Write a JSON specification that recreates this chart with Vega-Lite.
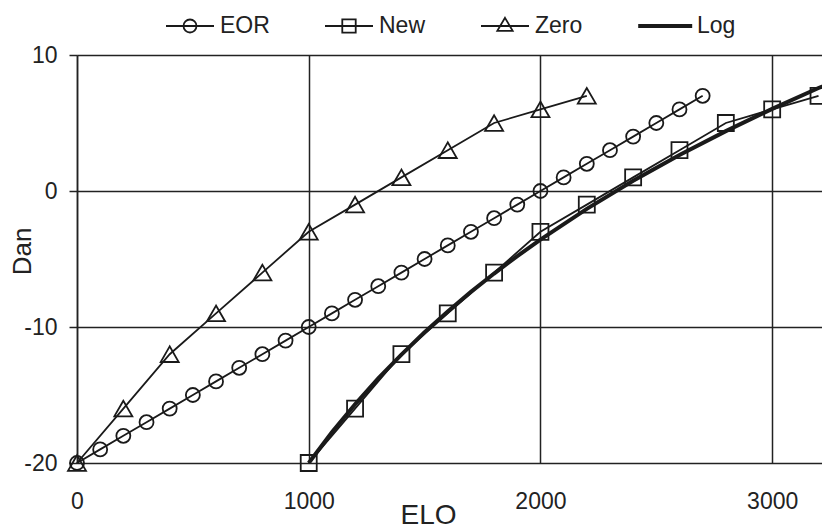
{
  "$schema": "https://vega.github.io/schema/vega-lite/v6.json",
  "width": 745,
  "height": 408,
  "autosize": {"type": "none"},
  "padding": {"left": 77, "top": 55, "right": 0, "bottom": 67},
  "background": "white",
  "config": {
    "view": {"stroke": null},
    "font": "Liberation Sans"
  },
  "data": {
    "values": [
      {"series": "EOR", "elo": 0, "dan": -20},
      {"series": "EOR", "elo": 100, "dan": -19},
      {"series": "EOR", "elo": 200, "dan": -18},
      {"series": "EOR", "elo": 300, "dan": -17},
      {"series": "EOR", "elo": 400, "dan": -16},
      {"series": "EOR", "elo": 500, "dan": -15},
      {"series": "EOR", "elo": 600, "dan": -14},
      {"series": "EOR", "elo": 700, "dan": -13},
      {"series": "EOR", "elo": 800, "dan": -12},
      {"series": "EOR", "elo": 900, "dan": -11},
      {"series": "EOR", "elo": 1000, "dan": -10},
      {"series": "EOR", "elo": 1100, "dan": -9},
      {"series": "EOR", "elo": 1200, "dan": -8},
      {"series": "EOR", "elo": 1300, "dan": -7},
      {"series": "EOR", "elo": 1400, "dan": -6},
      {"series": "EOR", "elo": 1500, "dan": -5},
      {"series": "EOR", "elo": 1600, "dan": -4},
      {"series": "EOR", "elo": 1700, "dan": -3},
      {"series": "EOR", "elo": 1800, "dan": -2},
      {"series": "EOR", "elo": 1900, "dan": -1},
      {"series": "EOR", "elo": 2000, "dan": 0},
      {"series": "EOR", "elo": 2100, "dan": 1},
      {"series": "EOR", "elo": 2200, "dan": 2},
      {"series": "EOR", "elo": 2300, "dan": 3},
      {"series": "EOR", "elo": 2400, "dan": 4},
      {"series": "EOR", "elo": 2500, "dan": 5},
      {"series": "EOR", "elo": 2600, "dan": 6},
      {"series": "EOR", "elo": 2700, "dan": 7},
      {"series": "New", "elo": 1000, "dan": -20},
      {"series": "New", "elo": 1200, "dan": -16},
      {"series": "New", "elo": 1400, "dan": -12},
      {"series": "New", "elo": 1600, "dan": -9},
      {"series": "New", "elo": 1800, "dan": -6},
      {"series": "New", "elo": 2000, "dan": -3},
      {"series": "New", "elo": 2200, "dan": -1},
      {"series": "New", "elo": 2400, "dan": 1},
      {"series": "New", "elo": 2600, "dan": 3},
      {"series": "New", "elo": 2800, "dan": 5},
      {"series": "New", "elo": 3000, "dan": 6},
      {"series": "New", "elo": 3200, "dan": 7},
      {"series": "Zero", "elo": 0, "dan": -20},
      {"series": "Zero", "elo": 200, "dan": -16},
      {"series": "Zero", "elo": 400, "dan": -12},
      {"series": "Zero", "elo": 600, "dan": -9},
      {"series": "Zero", "elo": 800, "dan": -6},
      {"series": "Zero", "elo": 1000, "dan": -3},
      {"series": "Zero", "elo": 1200, "dan": -1},
      {"series": "Zero", "elo": 1400, "dan": 1},
      {"series": "Zero", "elo": 1600, "dan": 3},
      {"series": "Zero", "elo": 1800, "dan": 5},
      {"series": "Zero", "elo": 2000, "dan": 6},
      {"series": "Zero", "elo": 2200, "dan": 7},
      {"series": "Log", "elo": 1000, "dan": -20},
      {"series": "Log", "elo": 1100, "dan": -17.74},
      {"series": "Log", "elo": 1200, "dan": -15.68},
      {"series": "Log", "elo": 1300, "dan": -13.78},
      {"series": "Log", "elo": 1400, "dan": -12.03},
      {"series": "Log", "elo": 1500, "dan": -10.39},
      {"series": "Log", "elo": 1600, "dan": -8.86},
      {"series": "Log", "elo": 1700, "dan": -7.42},
      {"series": "Log", "elo": 1800, "dan": -6.07},
      {"series": "Log", "elo": 1900, "dan": -4.79},
      {"series": "Log", "elo": 2000, "dan": -3.57},
      {"series": "Log", "elo": 2200, "dan": -1.31},
      {"series": "Log", "elo": 2400, "dan": 0.75},
      {"series": "Log", "elo": 2600, "dan": 2.65},
      {"series": "Log", "elo": 2800, "dan": 4.4},
      {"series": "Log", "elo": 3000, "dan": 6.04},
      {"series": "Log", "elo": 3200, "dan": 7.57},
      {"series": "Log", "elo": 3300, "dan": 8.3}
    ]
  },
  "encoding": {
    "x": {
      "field": "elo", "type": "quantitative",
      "scale": {"domain": [0, 3215], "nice": false, "zero": false},
      "axis": {
        "title": "ELO", "values": [0, 1000, 2000, 3000], "labelExpr": "'' + datum.value",
        "grid": true, "gridColor": "#222", "gridWidth": 1.5, "gridOpacity": 1,
        "domain": false, "ticks": false, "tickSize": 0,
        "labelFontSize": 23, "labelColor": "#222", "labelPadding": 27, "labelFlush": false,
        "titleFontSize": 28, "titleFontWeight": "normal", "titleColor": "#222",
        "titleX": 351, "titleY": 60, "titleBaseline": "alphabetic"
      }
    },
    "y": {
      "field": "dan", "type": "quantitative",
      "scale": {"domain": [-20, 10], "nice": false, "zero": false},
      "axis": {
        "title": "Dan", "values": [-20, -10, 0, 10], "labelExpr": "'' + datum.value",
        "grid": true, "gridColor": "#222", "gridWidth": 1.5, "gridOpacity": 1,
        "domain": true, "domainColor": "#222", "domainWidth": 1.5,
        "ticks": true, "tickSize": 8, "tickColor": "#222", "tickWidth": 1.5,
        "labelFontSize": 23, "labelColor": "#222", "labelPadding": 12, "labelFlush": false,
        "titleFontSize": 26, "titleFontWeight": "normal", "titleColor": "#222",
        "titleX": -55, "titleY": 196, "titleBaseline": "middle", "titleAngle": -90
      }
    }
  },
  "layer": [
    {
      "transform": [{"filter": "datum.series !== 'Log'"}],
      "mark": {"type": "line", "color": "#1a1a1a", "strokeWidth": 1.8},
      "encoding": {"detail": {"field": "series"}}
    },
    {
      "transform": [{"filter": "datum.series === 'Log'"}],
      "mark": {"type": "line", "color": "#1a1a1a", "strokeWidth": 4, "clip": true},
      "encoding": {}
    },
    {
      "transform": [{"filter": "datum.series === 'EOR'"}],
      "mark": {"type": "point", "shape": "circle", "size": 196, "filled": false, "color": "#1a1a1a", "strokeWidth": 1.8, "opacity": 1},
      "encoding": {}
    },
    {
      "transform": [{"filter": "datum.series === 'New'"}],
      "mark": {"type": "point", "shape": "square", "size": 256, "filled": false, "color": "#1a1a1a", "strokeWidth": 1.8, "opacity": 1},
      "encoding": {}
    },
    {
      "transform": [{"filter": "datum.series === 'Zero'"}],
      "mark": {"type": "point", "shape": "triangle-up", "size": 324, "filled": false, "color": "#1a1a1a", "strokeWidth": 1.8, "opacity": 1},
      "encoding": {}
    },
    {
      "transform": [{"filter": "datum.elo < -1000"}],
      "mark": {"type": "point", "filled": false, "color": "#1a1a1a", "opacity": 1, "strokeWidth": 1.8},
      "encoding": {
        "shape": {
          "field": "series", "type": "nominal",
          "scale": {
            "domain": ["EOR", "New", "Zero", "Log"],
            "range": [
              "M-1,0H1M0.27,0A0.27,0.27 0 1,1 -0.27,0A0.27,0.27 0 1,1 0.27,0",
              "M-1,0H1M-0.28,-0.28H0.28V0.28H-0.28Z",
              "M-1,0H1M0,-0.34L0.32,0.2L-0.32,0.2Z",
              "M-1.2,-0.05H1.05M-1.2,0H1.05M-1.2,0.05H1.05"
            ]
          },
          "legend": {
            "orient": "none", "legendX": 88, "legendY": -54, "direction": "horizontal",
            "title": null, "symbolSize": 2304, "labelFontSize": 23, "labelColor": "#222",
            "labelOffset": 5, "columnPadding": 51, "symbolStrokeColor": "#1a1a1a",
            "symbolStrokeWidth": 1.8,
            "symbolFillColor": "transparent", "symbolOpacity": 1, "padding": 0
          }
        }
      }
    }
  ]
}
